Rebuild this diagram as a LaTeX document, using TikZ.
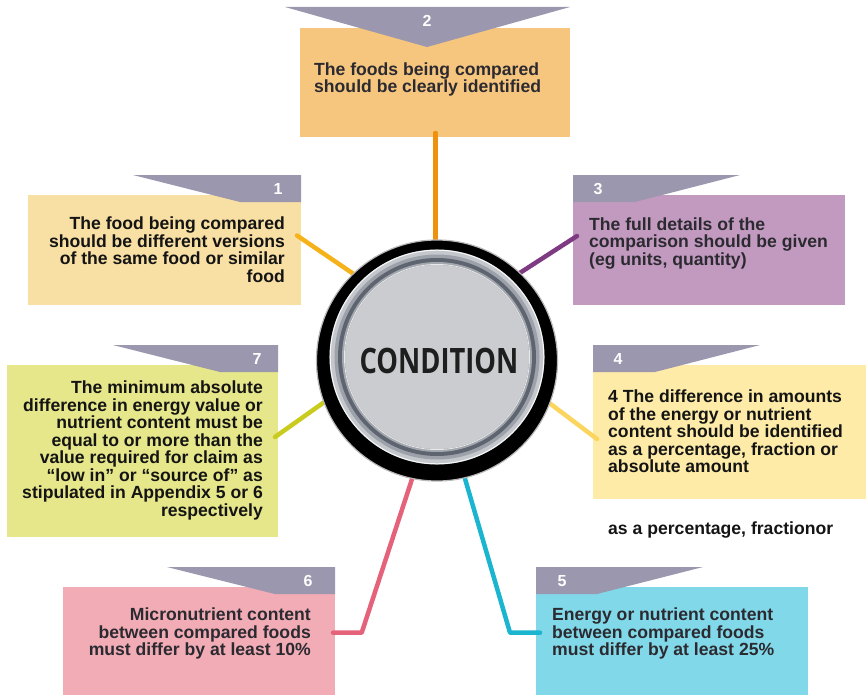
\documentclass[tikz,border=0pt]{standalone}
\usepackage{fontspec}
\setmainfont{Liberation Sans}
\newfontfamily\hubfont{Open Sans}

% panel fills
\definecolor{fillA}{HTML}{F8DFA4}
\definecolor{fillB}{HTML}{F6C67F}
\definecolor{fillC}{HTML}{C29AC0}
\definecolor{fillD}{HTML}{FDEBA7}
\definecolor{fillE}{HTML}{81D8E8}
\definecolor{fillF}{HTML}{F1ACB5}
\definecolor{fillG}{HTML}{E6E68A}
% connector colours
\definecolor{lineA}{HTML}{F5B21B}
\definecolor{lineB}{HTML}{EF910C}
\definecolor{lineC}{HTML}{7E3B84}
\definecolor{lineD}{HTML}{FBD55E}
\definecolor{lineE}{HTML}{1BB5CF}
\definecolor{lineF}{HTML}{E4627A}
\definecolor{lineG}{HTML}{C9CB1E}
% misc
\definecolor{tabgrey}{HTML}{9A97AE}
\definecolor{inkdark}{HTML}{141414}
\definecolor{inkgrey}{HTML}{2C2A31}
\definecolor{halo}{HTML}{B8B8B8}
\definecolor{rimA}{HTML}{C4C7CC}
\definecolor{rimB}{HTML}{9DA1A9}
\definecolor{rimC}{HTML}{5F6570}
\definecolor{rimD}{HTML}{A3A7AE}
\definecolor{hubfill}{HTML}{CBCCCF}
\definecolor{hubtext}{HTML}{1E1E1E}

\begin{document}
\begin{tikzpicture}[x=1pt,y=-1pt,
  panel/.style={inner sep=0pt, outer sep=0pt, draw=none, anchor=north west},
  tabnum/.style={font=\fontsize{16}{16}\selectfont\bfseries, text=white, inner sep=0pt, anchor=base},
  body/.style={font=\fontsize{17.6}{17.5}\selectfont\bfseries, inner sep=0pt},
  link/.style={line width=4.5pt, line cap=round, line join=round},
]
\useasboundingbox (0,0) rectangle (866,695);

% ---- panels ----
\node[panel, fill=fillA, minimum width=273pt, minimum height=110pt] (b1) at (28,195) {};
\node[panel, fill=fillB, minimum width=270pt, minimum height=109pt] (b2) at (300,28) {};
\node[panel, fill=fillC, minimum width=272pt, minimum height=110pt] (b3) at (573,195) {};
\node[panel, fill=fillD, minimum width=273pt, minimum height=134pt] (b4) at (593,365) {};
\node[panel, fill=fillE, minimum width=272pt, minimum height=108pt] (b5) at (536,587) {};
\node[panel, fill=fillF, minimum width=272pt, minimum height=108pt] (b6) at (63,587) {};
\node[panel, fill=fillG, minimum width=271pt, minimum height=172pt] (b7) at (7,365) {};

% ---- number tabs ----
\fill[tabgrey] (133,175) -- (301,175) -- (301,202) -- (240,202) -- cycle;
\fill[tabgrey] (285,7) -- (570,7) -- (427,47) -- cycle;
\fill[tabgrey] (573,175) -- (740,175) -- (635,202) -- (573,202) -- cycle;
\fill[tabgrey] (593,345) -- (760,345) -- (655,372) -- (593,372) -- cycle;
\fill[tabgrey] (536,567) -- (703,567) -- (597,594) -- (536,594) -- cycle;
\fill[tabgrey] (167,567) -- (335,567) -- (335,594) -- (275,594) -- cycle;
\fill[tabgrey] (113,345) -- (278,345) -- (278,372) -- (220,372) -- cycle;

\node[tabnum] (n1) at (278,194) {1};
\node[tabnum] (n2) at (427,26.5) {2};
\node[tabnum] (n3) at (598,194) {3};
\node[tabnum] (n4) at (618,364) {4};
\node[tabnum] (n5) at (562,586) {5};
\node[tabnum] (n6) at (308,586.5) {6};
\node[tabnum] (n7) at (257,364) {7};

% ---- panel texts ----
\node[body, text=inkdark, align=right, anchor=north east] (t1) at (285,217)
  {The food being compared\\should be different versions\\of the same food or similar\\food};
\node[body, text=inkgrey, align=left, anchor=north west] (t2) at (314,62.5)
  {The foods being compared\\should be clearly identified};
\node[body, text=inkgrey, align=left, anchor=north west] (t3) at (589,217.4)
  {The full details of the\\comparison should be given\\(eg units, quantity)};
\node[body, text=inkdark, align=left, anchor=north west] (t4) at (608,390)
  {4 The difference in amounts\\of the energy or nutrient\\content should be identified\\as a percentage, fraction or\\absolute amount};
\node[body, text=inkgrey, align=left, anchor=north west] (t5) at (552,608)
  {Energy or nutrient content\\between compared foods\\must differ by at least 25\%};
\node[body, text=inkgrey, align=right, anchor=north east] (t6) at (311,608)
  {Micronutrient content\\between compared foods\\must differ by at least 10\%};
\node[body, text=inkdark, align=right, anchor=north east] (t7) at (263,380.7)
  {The minimum absolute\\difference in energy value or\\nutrient content must be\\equal to or more than the\\value required for claim as\\“low in” or “source of” as\\stipulated in Appendix 5 or 6\\respectively};
\node[body, text=inkdark, anchor=base west] (note) at (608,534)
  {as a percentage, fractionor};

% ---- connector end points ----
\coordinate (p1) at (297,235.5);   \coordinate (q1) at (361,279);
\coordinate (p2) at (435.5,133);   \coordinate (q2) at (435.5,258);
\coordinate (p3) at (577,236);     \coordinate (q3) at (512,278);
\coordinate (p4) at (597,439);     \coordinate (q4) at (540,396);
\coordinate (p5) at (540,632.7);   \coordinate (k5) at (510,632.7);  \coordinate (q5) at (461,465);
\coordinate (p6) at (333,632.7);   \coordinate (k6) at (361.7,632.7); \coordinate (q6) at (416.6,465);
\coordinate (p7) at (275,437);     \coordinate (q7) at (330,398);

\draw[link, lineA] (p1) -- (q1);
\draw[link, lineB] (p2) -- (q2);
\draw[link, lineC] (p3) -- (q3);
\draw[link, lineD] (p4) -- (q4);
\draw[link, lineE] (p5) -- (k5) -- (q5);
\draw[link, lineF] (p6) -- (k6) -- (q6);
\draw[link, lineG] (p7) -- (q7);

% ---- central badge: black bezel, silver rim, grey face ----
\node[circle, fill=black, draw=halo, line width=1.2pt, minimum size=241pt, inner sep=0pt] (ring) at (437,360.5) {};
\coordinate (hub) at (437,357);
\fill[rimA] (hub) circle (107.5pt);
\draw[white!85!rimA, line width=1pt] (hub) circle (106.8pt);
\fill[rimB] (hub) circle (102.5pt);
\fill[rimC] (hub) circle (99pt);
\fill[rimD] (hub) circle (95pt);
\draw[white!60!rimA, line width=0.8pt] (hub) circle (92.6pt);
\fill[hubfill] (hub) circle (92pt);
\node[font=\fontsize{35}{35}\hubfont\bfseries, text=hubtext, inner sep=0pt] (cond) at (439,360.5)
  {\scalebox{0.78}[1]{CONDITION}};
\end{tikzpicture}
\end{document}
